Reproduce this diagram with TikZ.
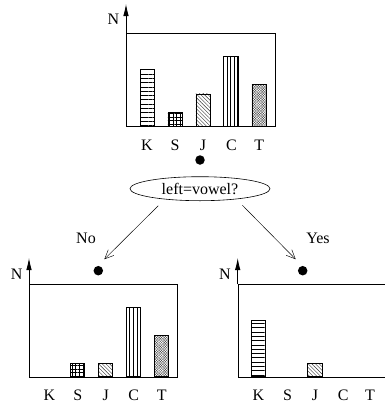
\documentclass[tikz,border=0pt]{standalone}
\usepackage{fontspec}
\setmainfont{Liberation Serif}
\usetikzlibrary{patterns.meta,arrows.meta,shapes.geometric}
\begin{document}
\begin{tikzpicture}[x=1pt,y=-1pt,
  frame/.style={draw,line width=0.8pt,inner sep=0pt,anchor=north west},
  bar/.style={draw,line width=0.6pt,inner sep=0pt,anchor=south west,minimum width=14.3pt},
  pk/.style={pattern={Lines[angle=0,distance=4.3pt,line width=0.5pt]}},
  ps/.style={pattern={Hatch[angle=0,distance=3.6pt,line width=0.45pt]}},
  pj/.style={pattern={Lines[angle=-45,distance=2.6pt,line width=0.4pt]},pattern color=black!80},
  pc/.style={pattern={Lines[angle=90,distance=3.6pt,line width=0.5pt]}},
  pt/.style={pattern={Hatch[angle=45,distance=1.8pt,line width=0.3pt]},pattern color=black!70},
  lab/.style={anchor=base,inner sep=0pt,font=\fontsize{16}{18}\selectfont},
  dot/.style={circle,fill,inner sep=0pt,minimum size=9.5pt},
  axis/.style={line width=0.8pt,-{Latex[length=12pt,width=5.5pt]}},
  branch/.style={line width=0.45pt,-{Straight Barb[length=9pt,width=8pt]}}]
\clip (0,0) rectangle (385,405);
% ---------- top chart ----------
\node[frame,minimum width=149pt,minimum height=93pt] (f1) at (126,33.3) {};
\coordinate (a1) at (126,4);
\draw[axis] (f1.north west) -- (a1);
\node[lab] (n1) at (113.3,24) {N};
\node[bar,pk,minimum height=56.3pt] (k1) at (140,126.3) {};
\node[bar,ps,minimum height=14pt] (s1) at (167.7,126.3) {};
\node[bar,pj,minimum height=32.3pt] (j1) at (195.7,126.3) {};
\node[bar,pc,minimum height=69.6pt] (c1) at (223.3,126.3) {};
\node[bar,pt,minimum height=42pt] (t1) at (251.7,126.3) {};
\node[lab] (lk1) at (147,150) {K};
\node[lab] (ls1) at (175,150) {S};
\node[lab] (lj1) at (203,150) {J};
\node[lab] (lc1) at (231.5,150) {C};
\node[lab] (lt1) at (259.3,150) {T};
\node[dot] (d1) at (200,160) {};
% ---------- question ----------
\node[ellipse,draw,line width=0.6pt,inner sep=0pt,minimum width=140pt,minimum height=24pt] (q) at (200,188.7) {};
\node[lab] (qt) at (200,194) {left=vowel?};
\coordinate (qa) at (158.3,205.7);
\coordinate (qb) at (242.3,205.2);
\coordinate (ea) at (104.3,259.3);
\coordinate (eb) at (295.7,259.3);
\draw[branch] (qa) -- (ea);
\draw[branch] (qb) -- (eb);
\node[lab] (no) at (86,243.3) {No};
\node[lab] (yes) at (318,243.3) {Yes};
% ---------- bottom left chart ----------
\node[dot] (d2) at (98.3,270.7) {};
\node[frame,minimum width=148pt,minimum height=92.7pt] (f2) at (29,284.3) {};
\coordinate (a2) at (29,258);
\draw[axis] (f2.north west) -- (a2);
\node[lab] (n2) at (16.7,279.3) {N};
\node[bar,ps,minimum height=13.7pt] (s2) at (70,377) {};
\node[bar,pj,minimum height=13.7pt] (j2) at (98,377) {};
\node[bar,pc,minimum height=69.7pt] (c2) at (125.7,377) {};
\node[bar,pt,minimum height=41.7pt] (t2) at (153.7,377) {};
\node[lab] (lk2) at (49.3,400.7) {K};
\node[lab] (ls2) at (77.7,400.7) {S};
\node[lab] (lj2) at (105.7,400.7) {J};
\node[lab] (lc2) at (133.7,400.7) {C};
\node[lab] (lt2) at (161.7,400.7) {T};
% ---------- bottom right chart ----------
\node[dot] (d3) at (302.7,270.7) {};
\node[frame,minimum width=160pt,minimum height=92.7pt] (f3) at (237.7,284.3) {};
\coordinate (a3) at (237.7,258);
\draw[axis] (f3.north west) -- (a3);
\node[lab] (n3) at (225,279.3) {N};
\node[bar,pk,minimum height=56pt] (k3) at (251,377) {};
\node[bar,pj,minimum height=13.7pt] (j3) at (307.3,377) {};
\node[lab] (lk3) at (258.3,400.7) {K};
\node[lab] (ls3) at (287.5,400.7) {S};
\node[lab] (lj3) at (315,400.7) {J};
\node[lab] (lc3) at (343.3,400.7) {C};
\node[lab] (lt3) at (370,400.7) {T};
\end{tikzpicture}
\end{document}
